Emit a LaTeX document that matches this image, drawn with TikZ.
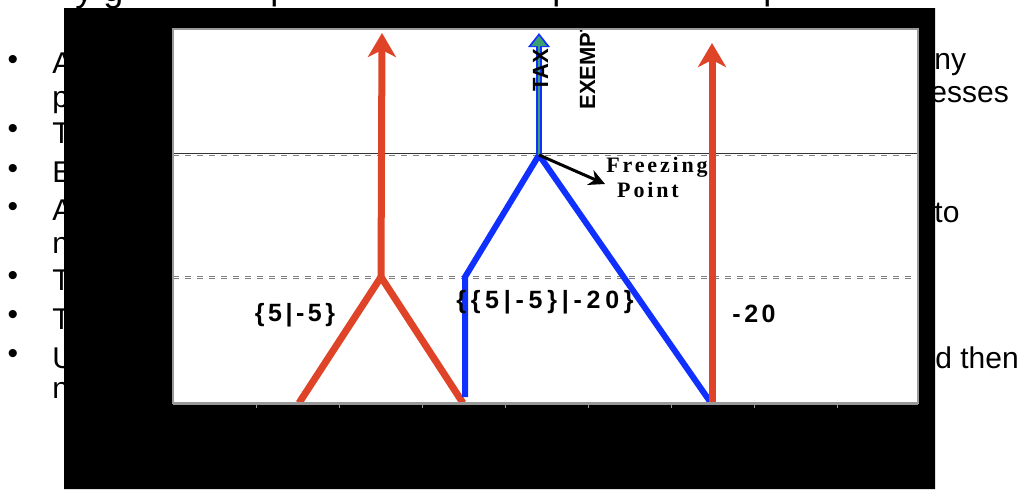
\documentclass[tikz,border=0pt]{standalone}
\usepackage{fontspec}
\setmainfont{Liberation Sans}
\newfontfamily\tagfont{Liberation Sans}[LetterSpace=14]
\newfontfamily\notefont{Liberation Serif}[LetterSpace=13]
\usetikzlibrary{arrows.meta}
\definecolor{cutred}{RGB}{224,68,40}
\definecolor{cutblue}{RGB}{16,48,255}
\definecolor{taxgreen}{RGB}{60,160,110}

\begin{document}
\begin{tikzpicture}[x=0.5pt, y=-0.5pt,
  slide/.style={anchor=base west, inner sep=0pt, font=\fontsize{15}{18}\selectfont},
  dot/.style={inner sep=0pt, font=\fontsize{15}{18}\selectfont},
  game/.style={inner sep=0pt, font=\tagfont\bfseries\fontsize{12.5}{15}\selectfont},
  side/.style={rotate=90, anchor=base west, inner sep=0pt, font=\bfseries\fontsize{11}{13}\selectfont},
  note/.style={inner sep=0pt, font=\notefont\bfseries\fontsize{11}{12}\selectfont},
  redline/.style={cutred, line width=3.5pt},
  blueline/.style={cutblue, line width=3pt},
  redarrow/.style={redline, -{Stealth[length=12pt, width=14pt, inset=3.5pt]}},
  gridline/.style={black!80, line width=0.5pt}]
  \useasboundingbox (0,0) rectangle (1032,489);

  % slide text behind the chart
  \node[slide, font=\fontsize{18}{20}\selectfont] (title) at (75,1) {y g};
  \node[slide, font=\fontsize{18}{20}\selectfont] (tp1) at (270,-1) {p};
  \node[slide, font=\fontsize{18}{20}\selectfont] (tp2) at (552,-1) {p};
  \node[slide, font=\fontsize{18}{20}\selectfont] (tp3) at (763,-1) {p};
  \node[dot] (d1) at (13,62) {•};
  \node[dot] (d2) at (13,131) {•};
  \node[dot] (d3) at (13,171) {•};
  \node[dot] (d4) at (13,209) {•};
  \node[dot] (d5) at (13,278) {•};
  \node[dot] (d6) at (13,317) {•};
  \node[dot] (d7) at (13,356) {•};
  \node[slide] (l1) at (52,73) {A};
  \node[slide] (l2) at (52,107) {p};
  \node[slide] (l3) at (52,143) {T};
  \node[slide] (l4) at (52,182) {E};
  \node[slide] (l5) at (52,220) {A};
  \node[slide] (l6) at (52,253) {n};
  \node[slide] (l7) at (52,290) {T};
  \node[slide] (l8) at (52,329) {T};
  \node[slide] (l9) at (52,368) {U};
  \node[slide] (l10) at (52,398) {n};
  \node[slide] (r1) at (934,69) {ny};
  \node[slide] (r2) at (930,102) {esses};
  \node[slide] (r3) at (934,222) {to};
  \node[slide] (r4) at (935,368) {d then};

  % chart
  \draw[gridline] (173,153) -- (918,153);
  \draw[gridline, gray, dashed] (173,155) -- (918,155);
  \draw[gridline, gray, dashed] (173,276) -- (918,276);
  \draw[gridline, gray, dashed] (173,278) -- (918,278);

  \coordinate (lfoot) at (299,403);
  \coordinate (lpeak) at (381,277);
  \coordinate (rfoot) at (463,403);
  \coordinate (ltip) at (382,33);
  \coordinate (bbase) at (465,397);
  \coordinate (bknee) at (465,277);
  \coordinate (bpeak) at (539,155);
  \coordinate (bfoot) at (711,403);
  \coordinate (taxtip) at (539,33);
  \coordinate (rtail) at (712,403);
  \coordinate (rtip) at (712,43);
  \coordinate (frztip) at (605,184);

  \draw[redline] (lfoot) -- (lpeak) -- (rfoot);
  \draw[redarrow] (lpeak) -- (ltip);
  \draw[blueline, line join=miter] (bbase) -- (bknee) -- (bpeak) -- (bfoot);
  \draw[redarrow] (rtail) -- (rtip);
  \draw[cutblue, line width=3pt, -{Triangle[length=7pt, width=10.5pt]}] (bpeak) -- (taxtip);
  \draw[taxgreen, line width=1.2pt, shorten >=1.4pt, -{Triangle[length=5.2pt, width=7.6pt]}] (bpeak) -- (taxtip);
  \draw[black, line width=1.5pt, -{Stealth[length=8pt, width=8pt]}] (bpeak) -- (frztip);

  \node[side] (tax) at (548,92) {TAX};
  \node[side] (exempt) at (595,110) {EXEMPT};
  \node[game] (g1) at (295,315) {\{5|-5\}};
  \node[game] (g2) at (545,302) {\addfontfeature{LetterSpace=19}\{\{5|-5\}|-20\}};
  \node[game] (g3) at (754,314) {-20};
  \node[note] (frz) at (657,167) {Freezing};
  \node[note] (pnt) at (648,190) {Point};

  % black cover round the plot
  \fill[black, even odd rule] (64,8) rectangle (935,489) (173,29) rectangle (918,403);
  \draw[gray!80, line width=1pt] (173,29) rectangle (918,403);
  \draw[gray!80, line width=1.5pt] (173,403) -- (918,403);
  \draw[gray!80] (256,403) -- (256,408) (339,403) -- (339,408) (422,403) -- (422,408) (505,403) -- (505,408)
    (588,403) -- (588,408) (671,403) -- (671,408) (754,403) -- (754,408) (837,403) -- (837,408);
\end{tikzpicture}
\end{document}
